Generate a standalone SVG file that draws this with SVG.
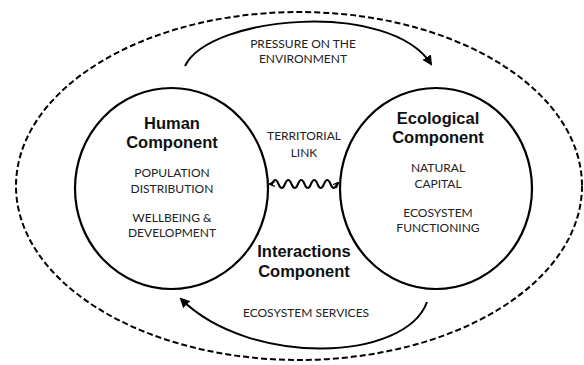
<svg xmlns="http://www.w3.org/2000/svg" width="584" height="365" viewBox="0 0 584 365">
<defs>
<marker id="arr" viewBox="0 0 10 10" refX="8" refY="5" markerWidth="10" markerHeight="10" markerUnits="userSpaceOnUse" orient="auto">
<path d="M0,0 L10,5 L0,10 Z" fill="#000"/>
</marker>
<marker id="arrs" viewBox="0 0 10 10" refX="8" refY="5" markerWidth="6" markerHeight="6" markerUnits="userSpaceOnUse" orient="auto-start-reverse">
<path d="M0,1 L10,5 L0,9" fill="none" stroke="#000" stroke-width="2"/>
</marker>
</defs>
<style>
.c{fill:none;stroke:#000;stroke-width:2.2}
.b{font-family:"Liberation Sans",Arial,sans-serif;font-weight:bold;font-size:16.5px;fill:#111;text-anchor:middle}
.s{font-family:Lato,"Liberation Sans",sans-serif;font-size:12px;fill:#222;text-anchor:middle}
.l{fill:none;stroke:#000;stroke-width:2}
</style>
<rect width="584" height="365" fill="#fff"/>
<g id="interactions">
<ellipse cx="299" cy="186" rx="283" ry="174" fill="none" stroke="#000" stroke-width="2" stroke-dasharray="6 3"/>
<text class="b" x="304" y="257">Interactions</text>
<text class="b" x="304" y="277">Component</text>
</g>
<g id="human">
<ellipse class="c" cx="171.5" cy="188.5" rx="96.5" ry="100.5"/>
<text class="b" x="172" y="129">Human</text>
<text class="b" x="172" y="148">Component</text>
<text class="s" x="172" y="177">POPULATION</text>
<text class="s" x="172" y="193">DISTRIBUTION</text>
<text class="s" x="172" y="222">WELLBEING &amp;</text>
<text class="s" x="172" y="237">DEVELOPMENT</text>
</g>
<g id="ecological">
<ellipse class="c" cx="436" cy="188.5" rx="96" ry="100.5"/>
<text class="b" x="438" y="124">Ecological</text>
<text class="b" x="438" y="143">Component</text>
<text class="s" x="438" y="172">NATURAL</text>
<text class="s" x="438" y="188">CAPITAL</text>
<text class="s" x="438" y="217">ECOSYSTEM</text>
<text class="s" x="438" y="232">FUNCTIONING</text>
</g>
<g id="connectors">
<path class="l" d="M185,66 C210,15 390,0 431,64" marker-end="url(#arr)"/>
<text class="s" x="303" y="48">PRESSURE ON THE</text>
<text class="s" x="303" y="63">ENVIRONMENT</text>
<path class="l" d="M427,302 C405,362 250,367 181,299" marker-end="url(#arr)"/>
<text class="s" x="306" y="317">ECOSYSTEM SERVICES</text>
<path class="l" d="M270,184 L272,184 q3.25,-8 6.5,0 t6.5,0 t6.5,0 t6.5,0 t6.5,0 t6.5,0 t6.5,0 t6.5,0 t6.5,0 t6.5,0 L338,183" marker-start="url(#arrs)" marker-end="url(#arrs)"/>
<text class="s" x="304" y="140">TERRITORIAL</text>
<text class="s" x="304" y="157">LINK</text>
</g>
</svg>
